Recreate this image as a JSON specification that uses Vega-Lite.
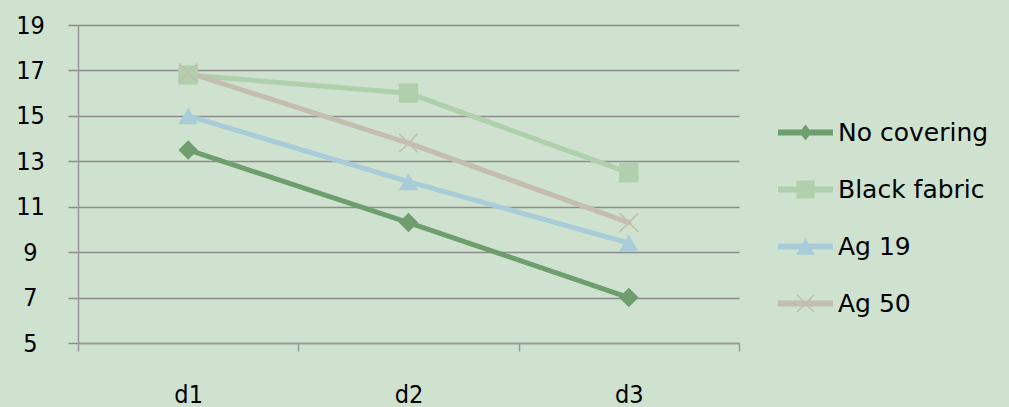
{
  "$schema": "https://vega.github.io/schema/vega-lite/v6.json",
  "width": 661,
  "height": 318,
  "autosize": "none",
  "padding": {"left": 78, "top": 25, "right": 270, "bottom": 64},
  "background": "#cfe2cf",
  "config": {"view": {"stroke": null}, "font": "DejaVu Sans"},
  "data": {
    "values": [
      {"series": "No covering", "day": "d1", "value": 13.5},
      {"series": "No covering", "day": "d2", "value": 10.3},
      {"series": "No covering", "day": "d3", "value": 7.0},
      {"series": "Black fabric", "day": "d1", "value": 16.8},
      {"series": "Black fabric", "day": "d2", "value": 16.0},
      {"series": "Black fabric", "day": "d3", "value": 12.5},
      {"series": "Ag 19", "day": "d1", "value": 15.0},
      {"series": "Ag 19", "day": "d2", "value": 12.1},
      {"series": "Ag 19", "day": "d3", "value": 9.4},
      {"series": "Ag 50", "day": "d1", "value": 16.9},
      {"series": "Ag 50", "day": "d2", "value": 13.8},
      {"series": "Ag 50", "day": "d3", "value": 10.3}
    ]
  },
  "encoding": {
    "x": {
      "field": "day", "type": "nominal", "bandPosition": 0.5,
      "scale": {"type": "band", "domain": ["d1", "d2", "d3"], "paddingInner": 0, "paddingOuter": 0},
      "axis": {
        "title": null, "grid": false, "tickBand": "extent", "tickSize": 8,
        "labelPadding": 31, "labelAngle": 0, "labelFont": "DejaVu Sans Condensed",
        "labelFontSize": 25, "labelColor": "#000000",
        "domainColor": "#999999", "domainWidth": 1.5, "tickColor": "#999999", "tickWidth": 1.5
      }
    },
    "y": {
      "field": "value", "type": "quantitative",
      "scale": {"domain": [5, 19], "nice": false, "zero": false},
      "axis": {
        "title": null, "values": [5, 7, 9, 11, 13, 15, 17, 19],
        "tickSize": 10, "labelPadding": 38, "labelAlign": "center", "labelBaseline": "middle",
        "labelFont": "DejaVu Sans Condensed", "labelFontSize": 25, "labelColor": "#000000",
        "grid": true, "gridColor": "#8c8c8c", "gridWidth": 1.5,
        "tickColor": "#8c8c8c", "tickWidth": 1.5,
        "domainColor": "#999999", "domainWidth": 1.5
      }
    },
    "color": {
      "field": "series", "type": "nominal",
      "scale": {
        "domain": ["No covering", "Black fabric", "Ag 19", "Ag 50"],
        "range": ["#6e9e6e", "#b0cfac", "#a8cdd8", "#c4beae"]
      },
      "legend": {
        "title": null, "orient": "none", "legendX": 700, "legendY": 80,
        "padding": 0, "rowPadding": 16, "labelFont": "DejaVu Sans", "labelFontSize": 25,
        "labelColor": "#000000", "symbolSize": 3025, "labelOffset": 5, "labelLimit": 300,
        "encode": {
          "symbols": {
            "update": {
              "shape": {"signal": "datum.value === 'No covering' ? 'M-1,-0.11H1V0.11H-1Z M0,-0.29L0.22,0L0,0.29L-0.22,0Z' : datum.value === 'Black fabric' ? 'M-1,-0.11H1V0.11H-1Z M-0.33,-0.33H0.33V0.33H-0.33Z' : datum.value === 'Ag 19' ? 'M-1,-0.11H1V0.11H-1Z M0,-0.3L0.34,0.3H-0.34Z' : 'M-1,-0.11H1V0.11H-1Z M-0.33,-0.29L-0.29,-0.33L0.33,0.29L0.29,0.33Z M-0.33,0.29L0.29,-0.33L0.33,-0.29L-0.29,0.33Z'"},
              "fill": {"scale": "color", "field": "value"},
              "stroke": {"value": "transparent"},
              "strokeWidth": {"value": 0},
              "size": {"value": 3025},
              "opacity": {"value": 1}
            }
          }
        }
      }
    }
  },
  "layer": [
    {"mark": {"type": "line", "strokeWidth": 5, "strokeCap": "round", "strokeJoin": "round"}},
    {
      "transform": [{"filter": "datum.series === 'No covering'"}],
      "mark": {"type": "point", "filled": true, "size": 380, "opacity": 1, "shape": "diamond"}
    },
    {
      "transform": [{"filter": "datum.series === 'Black fabric'"}],
      "mark": {"type": "point", "filled": true, "size": 380, "opacity": 1, "shape": "square"}
    },
    {
      "transform": [{"filter": "datum.series === 'Ag 19'"}],
      "mark": {"type": "point", "filled": true, "size": 380, "opacity": 1, "shape": "triangle-up"}
    },
    {
      "transform": [{"filter": "datum.series === 'Ag 50'"}],
      "mark": {"type": "point", "filled": true, "size": 380, "opacity": 1, "shape": "M-1,-0.88L-0.88,-1L1,0.88L0.88,1Z M-1,0.88L0.88,-1L1,-0.88L-0.88,1Z"}
    }
  ]
}
